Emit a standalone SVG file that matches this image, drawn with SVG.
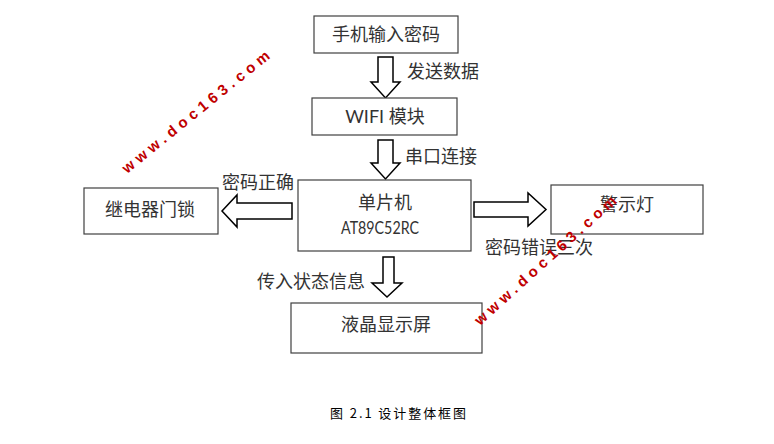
<svg xmlns="http://www.w3.org/2000/svg" width="774" height="444" viewBox="0 0 774 444">
<style>
.box{fill:#fff;stroke:#404040;stroke-width:1.2}
.arr{fill:#fff;stroke:#000;stroke-width:1.5;stroke-linejoin:miter}
.t{font-family:"Lato","Noto Sans CJK SC",sans-serif;font-size:18px;fill:#333}
.c{text-anchor:middle}
.wm{font-family:"Liberation Sans",Arial,sans-serif;font-weight:bold;font-size:15px;fill:#c00000}
.cap{font-family:"Noto Sans CJK SC",sans-serif;font-size:13px;fill:#000}
</style>
<rect width="774" height="444" fill="#fff"/>
<g id="connectors">
<polygon class="arr" points="378,57 393,57 393,82 400,82 385.5,98 371,82 378,82"/>
<polygon class="arr" points="378,140 393,140 393,163 400,163 385.5,179 371,163 378,163"/>
<polygon class="arr" points="292,203 237,203 237,195 222,211 237,227 237,219 292,219"/>
<polygon class="arr" points="474,202 528,202 528,193 546,209.5 528,226 528,217 474,217"/>
<polygon class="arr" points="383,257 394,257 394,283 402,283 387,297 372,283 383,283"/>
<text class="t" x="407" y="78">发送数据</text>
<text class="t" x="405" y="163">串口连接</text>
<text class="t" x="222" y="189">密码正确</text>
<text class="t" x="485" y="254">密码错误三次</text>
<text class="t" x="257" y="288">传入状态信息</text>
</g>
<g id="phone"><rect class="box" x="314" y="16" width="144" height="37"/><text class="t c" x="386" y="41">手机输入密码</text></g>
<g id="wifi"><rect class="box" x="312" y="98" width="145" height="37"/><text class="t c" x="385" y="123">WIFI 模块</text></g>
<g id="mcu"><rect class="box" x="298" y="180" width="173" height="71"/><text class="t c" x="385" y="209">单片机</text><text class="t" x="341" y="234" style="font-size:17px" textLength="78" lengthAdjust="spacingAndGlyphs">AT89C52RC</text></g>
<g id="relay"><rect class="box" x="84" y="188" width="134" height="46"/><text class="t c" x="150" y="216">继电器门锁</text></g>
<g id="alarm"><rect class="box" x="551" y="185" width="152" height="49"/><text class="t c" x="627" y="211">警示灯</text></g>
<g id="lcd"><rect class="box" x="291" y="303" width="191" height="50"/><text class="t c" x="386" y="331">液晶显示屏</text></g>
<text class="cap" x="330" y="418" textLength="136" lengthAdjust="spacing">图 2.1 设计整体框图</text>
<text class="wm" transform="translate(127,174) rotate(-39)" textLength="185" lengthAdjust="spacing">www.doc163.com</text>
<text class="wm" transform="translate(480,326) rotate(-42)" textLength="185" lengthAdjust="spacing">www.doc163.com</text>
</svg>
